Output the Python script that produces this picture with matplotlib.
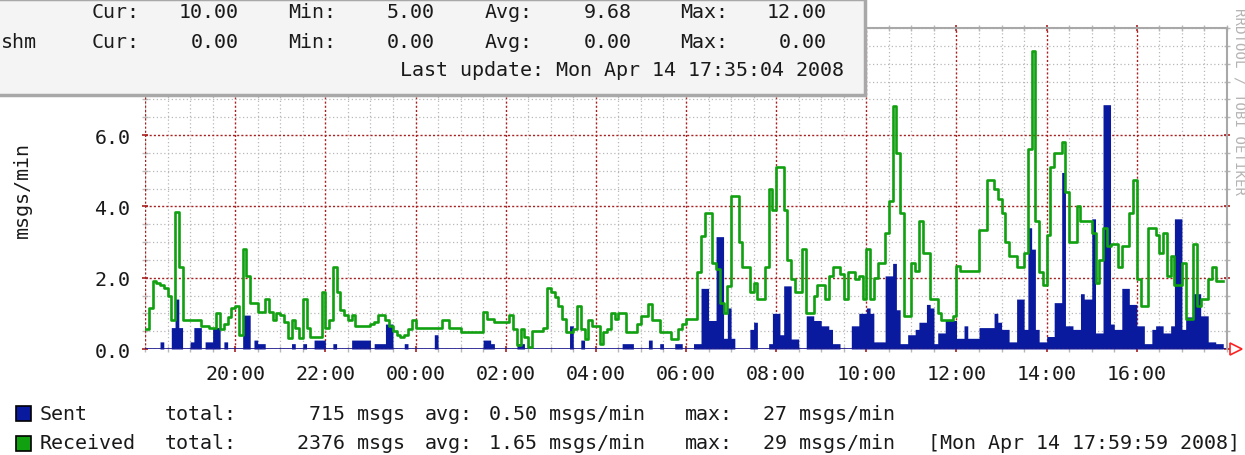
import matplotlib
matplotlib.use("Agg")
import matplotlib.pyplot as plt
import numpy as np
from matplotlib.patches import Rectangle
from matplotlib.ticker import MultipleLocator

MONO = "DejaVu Sans Mono"
W, H = 1245, 456

# 5-minute samples starting 18:00 (msgs/min)
received = [
    0.55, 1.15, 1.9, 1.85, 1.8, 1.7, 1.5, 0.8, 3.85, 2.3, 0.8, 0.8,
    0.8, 0.8, 0.8, 0.65, 0.65, 0.6, 0.6, 1.0, 0.55, 0.7, 0.9, 1.15,
    1.2, 0.4, 2.8, 2.05, 1.3, 1.3, 1.05, 1.05, 1.4, 1.05, 0.8, 1.0,
    0.95, 0.75, 0.3, 0.8, 0.6, 0.3, 1.4, 0.6, 0.35, 0.35, 0.35, 1.6,
    0.6, 0.8, 2.3, 1.6, 1.1, 0.95, 0.8, 0.95, 0.65, 0.65, 0.65, 0.65,
    0.7, 0.75, 0.95, 0.95, 0.8, 0.65, 0.5, 0.4, 0.35, 0.4, 0.55, 0.8,
    0.6, 0.6, 0.6, 0.6, 0.6, 0.6, 0.6, 0.8, 0.8, 0.6, 0.6, 0.6,
    0.47, 0.47, 0.47, 0.47, 0.47, 0.47, 1.05, 0.85, 0.85, 0.75, 0.75, 0.75,
    0.75, 0.95, 0.55, 0.1, 0.55, 0.35, 0.05, 0.5, 0.5, 0.5, 0.6, 1.7,
    1.6, 1.45, 1.2, 0.85, 0.47, 0.47, 0.55, 1.2, 0.55, 0.28, 0.8, 0.65,
    0.65, 0.15, 0.47, 0.55, 1.0, 0.85, 1.0, 1.0, 0.47, 0.47, 0.47, 0.7,
    0.93, 0.93, 1.25, 0.8, 0.8, 0.47, 0.47, 0.47, 0.28, 0.28, 0.55, 0.7,
    0.85, 0.85, 0.85, 2.15, 3.17, 3.82, 3.82, 2.4, 2.25, 1.3, 1.0, 1.77,
    4.3, 4.3, 3.0, 2.3, 2.3, 1.6, 1.85, 1.4, 1.4, 2.3, 4.5, 3.9,
    5.1, 5.1, 3.9, 2.5, 1.95, 1.6, 1.6, 2.8, 1.0, 1.0, 1.5, 1.8,
    1.8, 1.4, 2.05, 2.3, 2.3, 2.1, 1.4, 2.15, 2.15, 1.95, 2.05, 1.4,
    2.8, 1.4, 2.0, 2.4, 2.4, 3.25, 4.15, 6.8, 5.5, 3.8, 0.93, 0.93,
    2.4, 2.2, 3.6, 2.7, 2.7, 1.4, 1.4, 1.0, 0.8, 0.8, 0.8, 0.93,
    2.33, 2.2, 2.2, 2.2, 2.2, 2.2, 3.35, 3.35, 4.75, 4.75, 4.5, 4.2,
    3.8, 3.0, 2.6, 2.6, 2.3, 2.3, 2.7, 5.6, 8.35, 3.6, 2.15, 1.8,
    3.2, 5.1, 5.5, 5.5, 5.8, 4.4, 3.0, 3.0, 4.0, 3.6, 3.6, 3.6,
    3.25, 1.85, 2.5, 3.4, 2.9, 2.95, 2.95, 2.3, 2.9, 2.9, 3.8, 4.75,
    1.95, 1.2, 1.2, 3.4, 3.4, 3.2, 2.7, 3.25, 2.05, 2.6, 1.8, 1.8,
    2.4, 0.85, 0.85, 2.95, 1.2, 1.4, 1.4, 1.95, 2.3, 1.9, 1.9,
]
sent = [
    0, 0, 0, 0, 0.2, 0, 0, 0.6, 1.4, 0.6, 0, 0,
    0.2, 0.6, 0.6, 0, 0.2, 0.2, 0.6, 0.6, 0, 0.2, 0, 0,
    0, 0, 0.95, 0.95, 0, 0.25, 0.15, 0.15, 0, 0, 0, 0,
    0, 0, 0, 0.15, 0, 0, 0.15, 0, 0, 0.25, 0.25, 0.25,
    0, 0, 0.15, 0, 0, 0, 0, 0.25, 0.25, 0.25, 0.25, 0.25,
    0, 0.15, 0.15, 0.15, 0.7, 0.7, 0, 0, 0, 0.15, 0, 0,
    0, 0, 0, 0, 0, 0.4, 0, 0, 0, 0, 0, 0,
    0, 0, 0, 0, 0, 0, 0.25, 0.25, 0.15, 0, 0, 0,
    0, 0, 0, 0.15, 0.15, 0, 0, 0, 0, 0, 0, 0,
    0, 0, 0, 0, 0, 0.65, 0, 0, 0.25, 0, 0, 0,
    0, 0, 0, 0, 0, 0, 0, 0.15, 0.15, 0.15, 0, 0,
    0, 0, 0.25, 0, 0, 0.15, 0, 0, 0, 0.15, 0.15, 0,
    0, 0, 0.15, 0.15, 1.7, 1.7, 0.8, 0.8, 3.15, 3.15, 0.3, 1.15,
    0.3, 0, 0, 0, 0, 0.55, 0.75, 0, 0, 0, 0.15, 1.0,
    1.0, 0.4, 1.77, 1.77, 0.28, 0.28, 0, 0, 0.93, 0.93, 0.8, 0.8,
    0.65, 0.65, 0.55, 0.15, 0.15, 0, 0, 0, 0.65, 0.65, 1.0, 1.0,
    1.15, 1.0, 0.2, 0.2, 0.2, 2.05, 2.05, 2.4, 1.1, 0.15, 0.15, 0.4,
    0.4, 0.55, 0.75, 0.75, 1.25, 1.15, 0.15, 0.45, 0.45, 0.8, 0.8, 0.8,
    0.3, 0.3, 0.65, 0.3, 0.3, 0.3, 0.6, 0.6, 0.6, 0.6, 1.0, 0.75,
    0.55, 0.55, 0.2, 0.2, 1.4, 1.4, 0.55, 3.4, 2.8, 0.55, 0.2, 0.2,
    0.35, 0.35, 1.3, 1.3, 4.95, 0.65, 0.65, 0.55, 0.55, 1.55, 1.4, 1.4,
    3.65, 0.45, 0.45, 6.85, 6.85, 0.7, 0.55, 0.55, 1.7, 1.7, 1.25, 1.25,
    0.65, 0.65, 0.15, 0.15, 0.55, 0.65, 0.65, 0.45, 0.45, 0.65, 3.65, 3.65,
    0.55, 0.9, 0.9, 1.55, 1.55, 0.93, 0.93, 0.2, 0.2, 0.15, 0.15,
]
hour_ticks = [2, 4, 6, 8, 10, 12, 14, 16, 18, 20, 22]
hour_labels = ["20:00", "22:00", "00:00", "02:00", "04:00", "06:00",
               "08:00", "10:00", "12:00", "14:00", "16:00"]
y_ticks = [0, 2, 4, 6]
y_labels = ["0.0", "2.0", "4.0", "6.0"]

BLUE = "#0a1a9e"
GREEN = "#10a010"
RED = "#a82020"
GRID = "#b8b8b8"
INK = "#1a1a1a"


def fx(x):
    return x / W


def fy(y):
    return 1 - y / H


fig = plt.figure(figsize=(W / 100, H / 100), dpi=100)
ax = fig.add_axes([fx(145), fy(350), (1227 - 145) / W, (350 - 29) / H])

t = np.arange(len(received) + 1) * 5 / 60.0
rec = np.append(received, received[-1])
snt = np.append(sent, sent[-1])

ax.fill_between(t, 0, snt, step="post", color=BLUE, lw=0, zorder=3)
ax.plot(t, rec, drawstyle="steps-post", color=GREEN, lw=1.9, zorder=4)

ax.set_xlim(0, 24)
ax.set_ylim(0, 9)
ax.xaxis.set_minor_locator(MultipleLocator(0.5))
ax.yaxis.set_minor_locator(MultipleLocator(0.5))
ax.set_xticks(hour_ticks, hour_labels)
ax.set_yticks(y_ticks, y_labels)
ax.grid(which="minor", color=GRID, linestyle=(0, (1, 2)), lw=0.9, zorder=1)
ax.grid(which="major", color=RED, linestyle=(0, (1.5, 1.5)), lw=1.0, zorder=2)
ax.axvline(0, color=RED, linestyle=(0, (1.5, 1.5)), lw=1.0, zorder=2)
ax.axhline(0, color=BLUE, lw=1.2, zorder=2)
ax.axhline(0, color=RED, linestyle=(0, (1.5, 1.5)), lw=1.0, zorder=5)

for side in ("left", "bottom"):
    ax.spines[side].set_visible(False)
for side in ("top", "right"):
    ax.spines[side].set_color("#a8a8a8")
    ax.spines[side].set_linewidth(1.5)

ax.tick_params(which="both", direction="inout", top=True, right=True,
               labelfontfamily=MONO, labelsize=14.4, labelcolor=INK)
ax.tick_params(which="major", length=5, color=RED, width=1.2, pad=8)
ax.tick_params(which="minor", length=4, color=GRID, width=1.0)
ax.tick_params(axis="y", which="major", pad=8)

ax.plot([24.2], [0], marker=">", ms=8, mfc="white", mec="#ff2020",
        mew=1.2, clip_on=False, zorder=6)

fig.text(fx(22), fy(190), "msgs/min", rotation=90, ha="center", va="center",
         family=MONO, fontsize=14.4, color=INK)
fig.text(fx(1240), fy(8), "RRDTOOL / TOBI OETIKER", rotation=270,
         ha="center", va="top", family=MONO, fontsize=10.2, color="#b4b4b4")

# overlapping legend box of another graph at the top
fig.add_artist(Rectangle((fx(-5), fy(96)), fx(870), 96 / H,
                         transform=fig.transFigure, facecolor="#f4f4f4",
                         edgecolor="#a8a8a8", lw=2.5, zorder=10))
box_cols = [(92, "Cur:"), (288, "Min:"), (485, "Avg:"), (680, "Max:")]
box_rows = [(12, "", ["10.00", "5.00", "9.68", "12.00"]),
            (42, "shm", ["0.00", "0.00", "0.00", "0.00"])]
for y, name, vals in box_rows:
    if name:
        fig.text(fx(1), fy(y), name, ha="left", va="center", family=MONO,
                 fontsize=14.4, color=INK, zorder=11)
    for (x, lab), v in zip(box_cols, vals):
        fig.text(fx(x), fy(y), lab, ha="left", va="center", family=MONO,
                 fontsize=14.4, color=INK, zorder=11)
        fig.text(fx(x + 147), fy(y), v, ha="right", va="center", family=MONO,
                 fontsize=14.4, color=INK, zorder=11)
fig.text(fx(844), fy(71), "Last update: Mon Apr 14 17:35:04 2008", ha="right",
         va="center", family=MONO, fontsize=14.4, color=INK, zorder=11)

# bottom legend
legend_rows = [
    (414, BLUE, "Sent", "715 msgs", "0.50 msgs/min", "27 msgs/min"),
    (444, GREEN, "Received", "2376 msgs", "1.65 msgs/min", "29 msgs/min"),
]
for y, col, name, total, avg, mx in legend_rows:
    fig.add_artist(Rectangle((fx(16), fy(y + 8)), 15 / W, 15 / H,
                             transform=fig.transFigure, facecolor=col,
                             edgecolor="black", lw=1.2))
    kw = dict(va="center", family=MONO, fontsize=14.4, color=INK)
    fig.text(fx(40), fy(y), name, ha="left", **kw)
    fig.text(fx(165), fy(y), "total:", ha="left", **kw)
    fig.text(fx(405), fy(y), total, ha="right", **kw)
    fig.text(fx(425), fy(y), "avg:", ha="left", **kw)
    fig.text(fx(489), fy(y), avg, ha="left", **kw)
    fig.text(fx(685), fy(y), "max:", ha="left", **kw)
    fig.text(fx(895), fy(y), mx, ha="right", **kw)
fig.text(fx(1240), fy(444), "[Mon Apr 14 17:59:59 2008]", ha="right",
         va="center", family=MONO, fontsize=14.4, color=INK)

fig.savefig("out.png", dpi=100)
